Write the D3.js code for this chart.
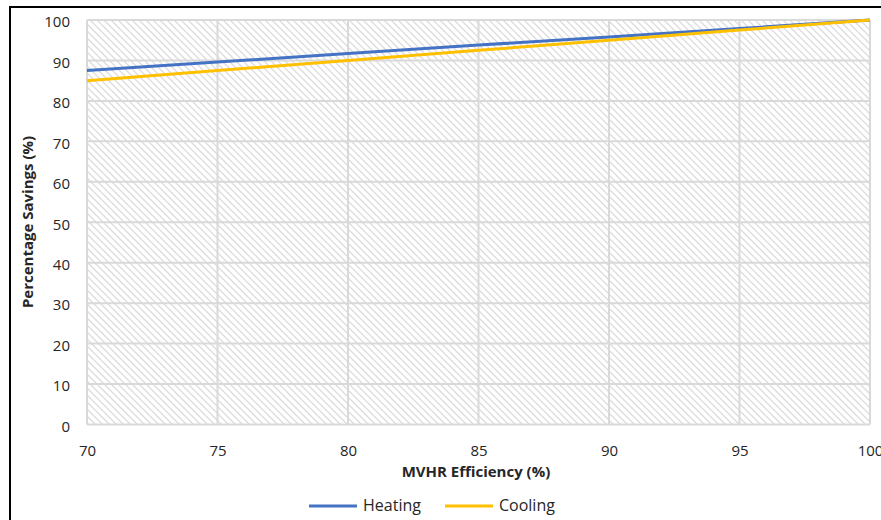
<!DOCTYPE html>
<html>
<head>
<meta charset="utf-8">
<script src="https://cdn.jsdelivr.net/npm/d3@7"></script>
<style>
  body { margin: 0; background: #fff; }
  text { font-family: "Open Sans", sans-serif; fill: #262626; }
</style>
</head>
<body>
<svg width="881" height="520"></svg>
<script>
var efficiency = [70, 75, 80, 85, 90, 95, 100];
var heating = [87.5, 89.6, 91.7, 93.8, 95.8, 97.9, 100];
var cooling = [85, 87.5, 90, 92.5, 95, 97.5, 100];
var xTicks = [70, 75, 80, 85, 90, 95, 100];
var yTicks = [0, 10, 20, 30, 40, 50, 60, 70, 80, 90, 100];

var svg = d3.select("svg");
var pLeft = 87, pRight = 870, pTop = 20, pBottom = 424.5;

var x = d3.scaleLinear().domain([70, 100]).range([pLeft, pRight]);
var y = d3.scaleLinear().domain([0, 100]).range([pBottom, pTop]);

// outer frame
svg.append("rect").attr("x", 10).attr("y", 7).attr("width", 880).attr("height", 530)
  .attr("fill", "none").attr("stroke", "#000").attr("stroke-width", 2);

// hatch pattern
var defs = svg.append("defs");
var pat = defs.append("pattern").attr("id", "hatch").attr("patternUnits", "userSpaceOnUse")
  .attr("width", 7).attr("height", 7);
pat.append("path").attr("d", "M-2,-2 L9,9 M-2,5 L2,9 M5,-2 L9,2")
  .attr("stroke", "#dcdcdc").attr("stroke-width", 1.3);

svg.append("rect").attr("x", pLeft).attr("y", pTop).attr("width", pRight - pLeft).attr("height", pBottom - pTop)
  .attr("fill", "url(#hatch)");

// gridlines
svg.append("g").selectAll("line").data(yTicks).enter().append("line")
  .attr("x1", pLeft).attr("x2", pRight)
  .attr("y1", function(d) { return y(d); }).attr("y2", function(d) { return y(d); })
  .attr("stroke", "#d9d9d9").attr("stroke-width", 2);
svg.append("g").selectAll("line").data(xTicks).enter().append("line")
  .attr("y1", pTop).attr("y2", pBottom)
  .attr("x1", function(d) { return x(d); }).attr("x2", function(d) { return x(d); })
  .attr("stroke", "#d9d9d9").attr("stroke-width", 2);

// axes
var yAxis = svg.append("g").attr("transform", "translate(" + (pLeft - 17) + ",2)")
  .call(d3.axisLeft(y).tickValues(yTicks).tickSize(0).tickPadding(0));
var xAxis = svg.append("g").attr("transform", "translate(0," + (pBottom + 21) + ")")
  .call(d3.axisBottom(x).tickValues(xTicks).tickSize(0).tickPadding(0));
[yAxis, xAxis].forEach(function(a) {
  a.select(".domain").remove();
  a.selectAll("text").style("font-family", "'Open Sans', sans-serif").style("font-size", "15px").attr("fill", "#262626");
});

// series lines
var line = function(vals) {
  return d3.line().x(function(d, i) { return x(efficiency[i]); }).y(function(d) { return y(d); })(vals);
};
svg.append("path").attr("d", line(heating)).attr("fill", "none").attr("stroke", "#4472C4").attr("stroke-width", 3);
svg.append("path").attr("d", line(cooling)).attr("fill", "none").attr("stroke", "#FFC000").attr("stroke-width", 3);

// axis titles
svg.append("text").attr("x", 476).attr("y", 477).attr("text-anchor", "middle")
  .style("font-size", "15px").style("font-weight", "bold").text("MVHR Efficiency (%)");
svg.append("text").attr("transform", "translate(33,222) rotate(-90)").attr("text-anchor", "middle")
  .style("font-size", "15px").style("font-weight", "bold").text("Percentage Savings (%)");

// legend
var legend = [{ name: "Heating", color: "#4472C4", x: 309 }, { name: "Cooling", color: "#FFC000", x: 445 }];
var lg = svg.append("g").selectAll("g").data(legend).enter().append("g");
lg.append("line").attr("x1", function(d) { return d.x; }).attr("x2", function(d) { return d.x + 48; })
  .attr("y1", 506).attr("y2", 506).attr("stroke", function(d) { return d.color; }).attr("stroke-width", 3);
lg.append("text").attr("x", function(d) { return d.x + 54; }).attr("y", 511)
  .style("font-size", "16px").text(function(d) { return d.name; });
</script>
</body>
</html>
